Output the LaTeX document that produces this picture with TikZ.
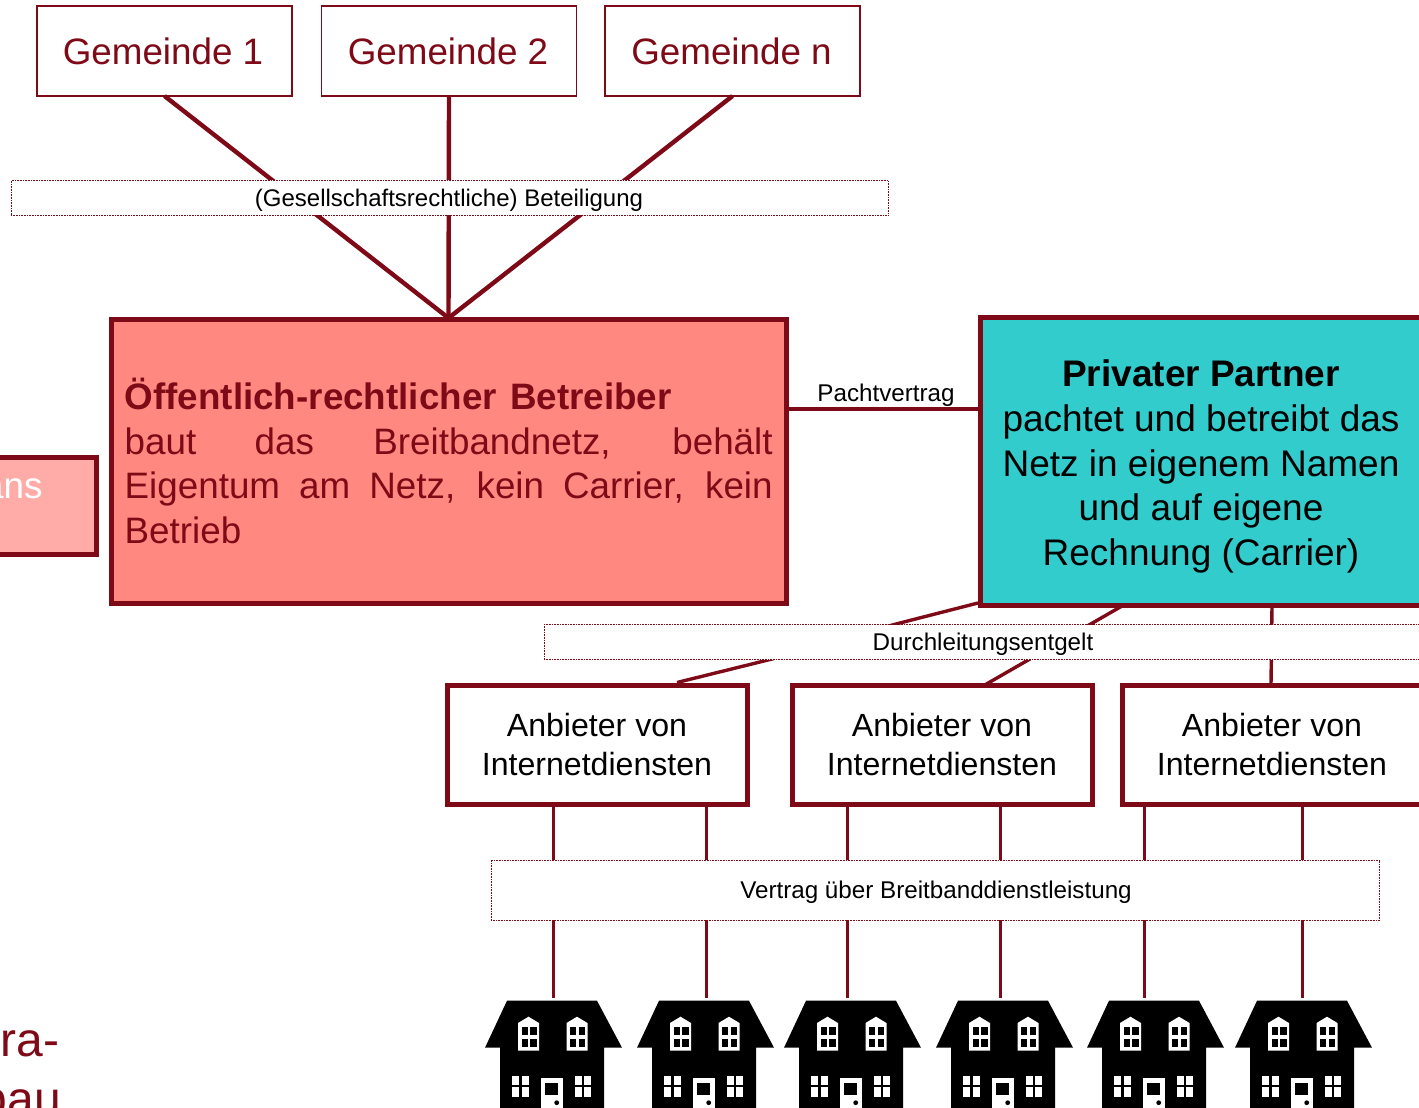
\documentclass[tikz,border=0pt]{standalone}
\usepackage{fontspec}
\setmainfont{Liberation Sans}
\definecolor{dred}{HTML}{7F0A17}
\definecolor{redfill}{HTML}{FF8981}
\definecolor{lightred}{HTML}{FFACA8}
\definecolor{teal2}{HTML}{33CCCC}
\newcommand{\fs}[2]{\fontsize{#1}{#2}\selectfont}
\tikzset{
  x=1pt,y=-1pt,
  every node/.style={outer sep=0pt,inner sep=0pt},
  gembox/.style={draw=dred,line width=1.7pt,fill=white,minimum width=255pt,minimum height=90pt,text=dred,font=\fs{36.8}{44}},
  mainbox/.style={draw=dred,line width=5pt},
  anbox/.style={mainbox,fill=white,minimum width=300pt,minimum height=119pt,align=center,font=\fs{32.1}{39}},
  labbox/.style={draw=dred,line width=0.6pt,densely dotted,fill=white},
  labtext/.style={font=\fs{24.2}{29},text=black},
  thick1/.style={draw=dred,line width=4.4pt},
  thick2/.style={draw=dred,line width=3.4pt},
  thick3/.style={draw=dred,line width=3pt},
  housepic/.pic={
    \fill[black] (-46.5,0.7) -- (43.5,0.7) -- (68.5,47.7) -- (50.5,47.7) -- (50.5,120) -- (-53.5,120) -- (-53.5,47.7) -- (-68.5,47.7) -- cycle;
    \foreach \dx in {0,48.5}{
      \begin{scope}[xshift=\dx pt]
      \fill[white] (-35.5,23) -- (-25,16.7) -- (-14.5,23) -- (-14.5,50.7) -- (-35.5,50.7) -- cycle;
      \fill[black] (-31.8,27) rectangle (-25.8,35);
      \fill[black] (-23.5,27) rectangle (-16.8,35);
      \fill[black] (-31.8,39) rectangle (-25.8,47);
      \fill[black] (-23.5,39) rectangle (-16.8,47);
      \end{scope}}
    \foreach \dx in {0,62.7}{
      \begin{scope}[xshift=\dx pt]
      \fill[white] (-41.2,75.7) rectangle (-34.2,85);
      \fill[white] (-31.8,75.7) rectangle (-24.8,85);
      \fill[white] (-41.2,87.3) rectangle (-34.2,96.7);
      \fill[white] (-31.8,87.3) rectangle (-24.8,96.7);
      \end{scope}}
    \fill[white] (-12.8,78) rectangle (9.2,120);
    \fill[black] (-8.5,83.3) rectangle (4.8,95);
    \fill[black] (3.2,102.7) circle (2.4);
  }
}
\begin{document}
\begin{tikzpicture}
\useasboundingbox (0,0) rectangle (1419,1108);
\clip (0,0) rectangle (1419,1108);

% nodes
\node[gembox] (g1) at (164.5,51) {\hspace{-3pt}\raisebox{-1.5pt}{Gemeinde 1}};
\node[gembox] (g2) at (449,51) {\hspace{-2pt}\raisebox{-1.5pt}{Gemeinde 2}};
\node[gembox] (gn) at (732.5,51) {\hspace{-2pt}\raisebox{-1.5pt}{Gemeinde n}};

\coordinate (hub) at (448.5,318);
\coordinate (pl) at (787,409);
\coordinate (pr) at (980,409);
\coordinate (p1) at (978,603);
\coordinate (m1) at (896,624);
\coordinate (m2) at (772,659);
\coordinate (a1) at (677,682.5);
\coordinate (p2) at (1122,606);
\coordinate (a2) at (983,686);
\coordinate (p3) at (1272,606);
\coordinate (a3) at (1271,684);

% upper connectors
\draw[thick1] (g1.south) -- (hub);
\draw[thick1] (g2.south) -- (hub);
\draw[thick1] (gn.south) -- (hub);
\draw[thick1] (pl) -- (pr);
% lower connectors
\draw[thick2] (p1) -- (m1) -- (m2) -- (a1);
\draw[thick2] (p2) -- (a2);
\draw[thick2] (p3) -- (a3);

\foreach \n/\x in {a/553,b/706.5,c/847,d/1000,e/1144.5,f/1302.5}{
  \coordinate (t\n) at (\x,804);
  \coordinate (h\n) at (\x,998);
  \draw[thick3] (t\n) -- (h\n);
}

\node[labbox,minimum width=877pt,minimum height=34.5pt] (lab1) at (449.5,197.7) {};
\node[labtext,font=\fs{24}{29}] (lab1t) at (449,200) {(Gesellschaftsrechtliche) Beteiligung};
\node[labbox,minimum width=878pt,minimum height=35pt] (lab2) at (983,642) {};
\node[labtext] (lab2t) at (983,644) {Durchleitungsentgelt};
\node[labbox,minimum width=888.5pt,minimum height=60pt] (lab3) at (935.5,890) {};
\node[labtext] (lab3t) at (936,892) {Vertrag über Breitbanddienstleistung};
\node[labtext,anchor=base] (pacht) at (886,401) {Pachtvertrag};

\node[mainbox,fill=redfill,minimum width=675pt,minimum height=284pt] (bet) at (448.5,461.5) {};
\node[anchor=north west,text width=648pt,align=justify,text=dred,font=\fs{36.8}{44.6}] (bettext) at (124.7,378)
  {\textbf{Öffentlich-rechtlicher\hspace{3pt} Betreiber}\\
   baut\hspace{7pt} das\hspace{8pt} Breitbandnetz, behält\linebreak Eigentum am Netz, kein Carrier, kein\linebreak Betrieb};

\node[mainbox,fill=teal2,minimum width=442pt,minimum height=288pt] (priv) at (1201,461.5) {};
\node[align=center,font=\fs{37}{44.8},text=black] (privtext) at (1201,466.5)
  {\textbf{Privater Partner}\\pachtet und betreibt das\\Netz in eigenem Namen\\und auf eigene\\Rechnung (Carrier)};

\node[anbox] (an1) at (597,744.5) {\raisebox{-1.5pt}{Anbieter von}\\\raisebox{-1.5pt}{Internetdiensten}};
\node[anbox] (an2) at (942,744.5) {\raisebox{-1.5pt}{Anbieter von}\\\raisebox{-1.5pt}{Internetdiensten}};
\node[anbox] (an3) at (1272,744.5) {\raisebox{-1.5pt}{Anbieter von}\\\raisebox{-1.5pt}{Internetdiensten}};

% cropped items at the left edge
\node[mainbox,fill=lightred,minimum width=150pt,minimum height=97pt] (left) at (21,506) {};
\node[anchor=base east,text=white,font=\fs{36.8}{44}] (lefttext) at (42.5,498) {ans};
\node[anchor=base east,text=dred,font=\fs{48}{59}] (cr1) at (59,1056) {ra-};
\node[anchor=base east,text=dred,font=\fs{48}{59}] (cr2) at (61,1115) {bau};

% houses
\foreach \x in {553.5,705.5,852.5,1004.5,1155.5,1303.5}{
  \pic at (\x,1000) {housepic};
}
\end{tikzpicture}
\end{document}
